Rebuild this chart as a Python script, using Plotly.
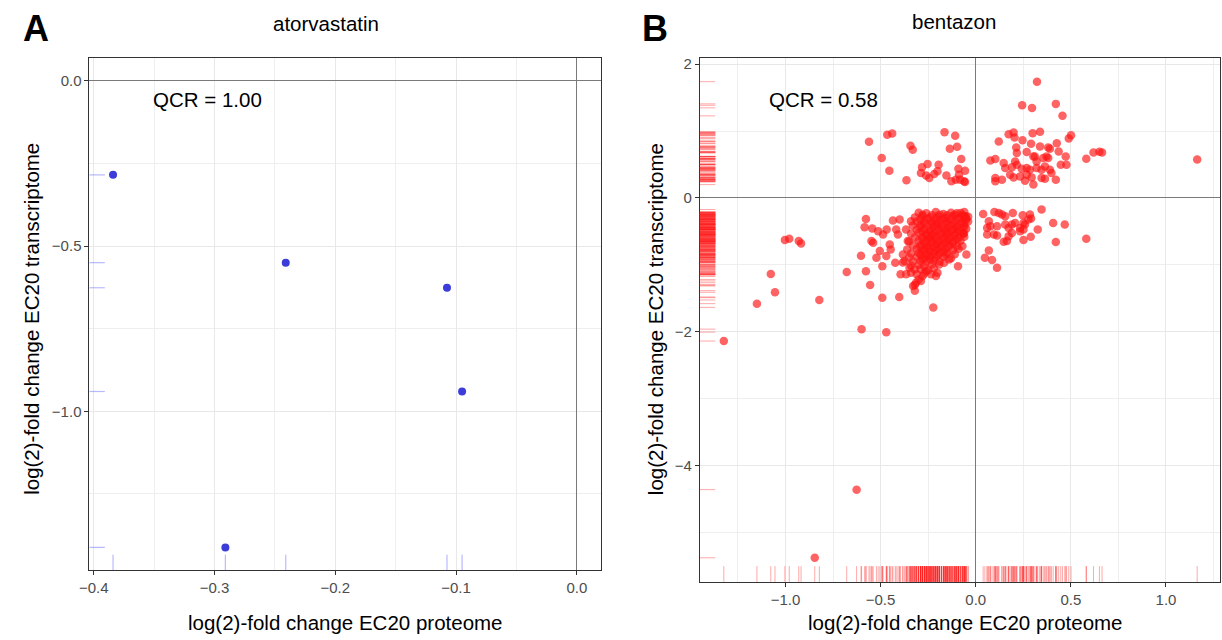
import plotly.graph_objects as go

W, H = 1222, 640
FONT = "Liberation Sans, Arial, sans-serif"

# ---------------- Panel A: atorvastatin ----------------
ator_x = [-0.384, -0.241, -0.1075, -0.095, -0.291]
ator_y = [-0.284, -0.550, -0.626, -0.940, -1.412]

# ---------------- Panel B: bentazon (x = proteome, y = transcriptome) ----------------
benta_sparse = [
    (-1.150, -1.580), (-0.822, -1.525), (-0.223, -1.636), (-1.324, -2.139),
    (-0.600, -1.961), (-0.470, -2.006), (-0.626, -4.361), (-0.846, -5.380),
    (-1.003, -0.630), (-0.980, -0.611), (-0.930, -0.645), (-0.918, -0.680),
    (-1.077, -1.137), (-1.055, -1.410), (-0.678, -1.107), (-0.577, -1.097),
    (-0.603, -0.864), (-0.555, -1.301), (-0.491, -1.490), (-0.402, -1.480),
    (-0.320, -1.386), (-0.329, -1.316), (-0.491, -1.022), (-0.522, -0.894),
    (-0.504, -0.794), (-0.423, -0.969), (-0.383, -0.963), (-0.395, -1.142),
    (-0.366, -1.142), (-0.093, -1.022), (-0.049, -0.844), (-0.065, -0.537),
    (-0.577, -0.313), (-0.584, -0.437), (-0.544, -0.456), (-0.513, -0.496),
    (-0.487, -0.545), (-0.468, -0.471), (-0.435, -0.337), (-0.400, -0.322),
    (-0.452, -0.694), (-0.447, -0.769), (-0.470, -0.869), (-0.548, -0.645),
    (-0.539, -0.671), (-0.418, -0.471), (-0.409, -0.545), (-0.357, -0.645),
    (-0.366, -0.471), (-0.340, -0.347), (-0.383, -0.844), (-0.374, -0.943),
    (-0.348, -1.043), (-0.340, -1.118), (-0.314, -1.267), (-0.288, -1.241),
    (-0.279, -1.167), (-0.261, -1.092), (-0.235, -1.142), (-0.209, -1.167),
    (-0.201, -1.118), (-0.192, -0.993), (-0.166, -0.969), (-0.140, -0.918),
    (-0.157, -0.844), (-0.079, -0.224), (-0.053, -0.273), (-0.061, -0.273),
    (-0.053, -0.298), (-0.061, -0.522), (-0.070, -0.720),
]

benta_upper_left = [
    (-0.561, 0.841), (-0.465, 0.945), (-0.439, 0.964), (-0.343, 0.781),
    (-0.331, 0.721), (-0.494, 0.596), (-0.454, 0.408), (-0.364, 0.264),
    (-0.164, 0.984), (-0.108, 0.930), (-0.136, 0.736), (-0.098, 0.766),
    (-0.076, 0.581), (-0.282, 0.458), (-0.253, 0.507), (-0.288, 0.373),
    (-0.261, 0.338), (-0.244, 0.298), (-0.218, 0.358), (-0.195, 0.498),
    (-0.201, 0.398), (-0.154, 0.338), (-0.128, 0.249), (-0.091, 0.438),
    (-0.088, 0.349), (-0.056, 0.408), (-0.105, 0.274), (-0.061, 0.249),
    (-0.082, 0.274), (-0.056, 0.238),
]

benta_upper_right = [
    (0.322, 1.739), (0.244, 1.386), (0.296, 1.347), (0.421, 1.407),
    (0.456, 1.228), (0.173, 0.954), (0.199, 0.979), (0.204, 0.905),
    (0.121, 0.845), (0.246, 0.864), (0.299, 0.969), (0.338, 0.990),
    (0.291, 0.811), (0.489, 0.890), (0.501, 0.939), (0.426, 0.820),
    (0.581, 0.587), (0.619, 0.681), (0.650, 0.692), (0.664, 0.681),
    (1.164, 0.576),
    (0.213, 0.756), (0.216, 0.671), (0.207, 0.547), (0.268, 0.686),
    (0.303, 0.621), (0.338, 0.770), (0.381, 0.756), (0.390, 0.736),
    (0.436, 0.696), (0.473, 0.621), (0.447, 0.498), (0.477, 0.498),
    (0.372, 0.621), (0.355, 0.596), (0.381, 0.596), (0.320, 0.547),
    (0.311, 0.621), (0.077, 0.562), (0.103, 0.581), (0.147, 0.522),
    (0.155, 0.447), (0.190, 0.458), (0.216, 0.498), (0.242, 0.438),
    (0.268, 0.447), (0.285, 0.423), (0.320, 0.447), (0.346, 0.423),
    (0.364, 0.472), (0.390, 0.423), (0.398, 0.373), (0.103, 0.298),
    (0.138, 0.274), (0.103, 0.249), (0.181, 0.349), (0.199, 0.308),
    (0.233, 0.323), (0.268, 0.349), (0.294, 0.308), (0.259, 0.259),
    (0.303, 0.200), (0.346, 0.298), (0.364, 0.289), (0.421, 0.274),
]

benta_lower_right = [
    (0.039, -0.238), (0.098, -0.209), (0.121, -0.224), (0.138, -0.247),
    (0.155, -0.273), (0.195, -0.224), (0.247, -0.258), (0.285, -0.247),
    (0.291, -0.307), (0.346, -0.173), (0.069, -0.347), (0.077, -0.422),
    (0.060, -0.447), (0.112, -0.422), (0.155, -0.396), (0.190, -0.396),
    (0.173, -0.447), (0.207, -0.373), (0.251, -0.373), (0.233, -0.447),
    (0.259, -0.396), (0.277, -0.322), (0.060, -0.545), (0.095, -0.545),
    (0.112, -0.560), (0.190, -0.522), (0.173, -0.571), (0.233, -0.496),
    (0.251, -0.471), (0.326, -0.471), (0.147, -0.656), (0.164, -0.645),
    (0.251, -0.630), (0.289, -0.581), (0.407, -0.373), (0.468, -0.396),
    (0.421, -0.660), (0.581, -0.611), (0.069, -0.784), (0.048, -0.894),
    (0.086, -0.928), (0.112, -1.043),
]

benta_core = [
    (-0.30, -0.22), (-0.26, -0.23), (-0.21, -0.21), (-0.17, -0.24), (-0.13, -0.22), (-0.10, -0.23), (-0.06, -0.21),
    (-0.32, -0.29), (-0.28, -0.27), (-0.24, -0.29), (-0.20, -0.28), (-0.16, -0.30), (-0.12, -0.27), (-0.08, -0.29), (-0.04, -0.28),
    (-0.31, -0.35), (-0.27, -0.34), (-0.23, -0.36), (-0.19, -0.33), (-0.15, -0.35), (-0.11, -0.34), (-0.07, -0.36), (-0.04, -0.35),
    (-0.33, -0.41), (-0.29, -0.40), (-0.25, -0.42), (-0.21, -0.39), (-0.18, -0.41), (-0.14, -0.40), (-0.10, -0.42), (-0.06, -0.40),
    (-0.31, -0.47), (-0.27, -0.46), (-0.24, -0.48), (-0.20, -0.45), (-0.16, -0.47), (-0.12, -0.46), (-0.09, -0.48), (-0.05, -0.46),
    (-0.34, -0.53), (-0.30, -0.52), (-0.26, -0.54), (-0.22, -0.51), (-0.18, -0.53), (-0.15, -0.52), (-0.11, -0.54), (-0.07, -0.52),
    (-0.32, -0.59), (-0.28, -0.58), (-0.24, -0.60), (-0.21, -0.57), (-0.17, -0.59), (-0.13, -0.58), (-0.09, -0.60), (-0.06, -0.58),
    (-0.35, -0.65), (-0.30, -0.64), (-0.26, -0.66), (-0.23, -0.63), (-0.19, -0.65), (-0.15, -0.64), (-0.12, -0.66), (-0.08, -0.64),
    (-0.33, -0.71), (-0.29, -0.70), (-0.25, -0.72), (-0.21, -0.69), (-0.18, -0.71), (-0.14, -0.70), (-0.10, -0.72),
    (-0.36, -0.77), (-0.31, -0.76), (-0.27, -0.78), (-0.24, -0.75), (-0.20, -0.77), (-0.16, -0.76), (-0.12, -0.78), (-0.09, -0.76),
    (-0.34, -0.83), (-0.30, -0.82), (-0.26, -0.84), (-0.22, -0.81), (-0.19, -0.83), (-0.15, -0.82), (-0.11, -0.84),
    (-0.35, -0.89), (-0.31, -0.88), (-0.28, -0.90), (-0.24, -0.87), (-0.21, -0.89), (-0.17, -0.88), (-0.13, -0.90),
    (-0.33, -0.95), (-0.29, -0.94), (-0.26, -0.96), (-0.22, -0.93), (-0.19, -0.95),
    (-0.34, -1.01), (-0.30, -1.00), (-0.27, -1.02), (-0.23, -0.99),
    (-0.32, -1.07), (-0.29, -1.06), (-0.25, -1.08), (-0.22, -1.05),
    (-0.31, -1.14), (-0.27, -1.13),
    (-0.30, -1.22), (-0.32, -1.30),
]

benta_core_mid = [
    (-0.28, -0.25), (-0.23, -0.26), (-0.19, -0.25), (-0.15, -0.26), (-0.11, -0.25), (-0.07, -0.26),
    (-0.29, -0.32), (-0.25, -0.31), (-0.21, -0.32), (-0.17, -0.31), (-0.13, -0.32), (-0.09, -0.31), (-0.05, -0.32),
    (-0.27, -0.38), (-0.23, -0.39), (-0.19, -0.38), (-0.15, -0.37), (-0.11, -0.38), (-0.07, -0.39),
    (-0.29, -0.44), (-0.22, -0.43), (-0.18, -0.44), (-0.14, -0.45), (-0.10, -0.44), (-0.06, -0.43),
    (-0.28, -0.50), (-0.24, -0.51), (-0.20, -0.49), (-0.16, -0.50), (-0.13, -0.49), (-0.09, -0.51),
    (-0.26, -0.56), (-0.23, -0.55), (-0.19, -0.56), (-0.15, -0.55), (-0.11, -0.56),
    (-0.28, -0.61), (-0.25, -0.62), (-0.21, -0.61), (-0.17, -0.62), (-0.14, -0.61), (-0.10, -0.62),
    (-0.27, -0.68), (-0.23, -0.67), (-0.20, -0.68), (-0.16, -0.67), (-0.12, -0.68),
    (-0.29, -0.73), (-0.26, -0.74), (-0.22, -0.73), (-0.18, -0.74), (-0.14, -0.73),
    (-0.28, -0.79), (-0.24, -0.80), (-0.21, -0.79), (-0.17, -0.80),
    (-0.29, -0.85), (-0.25, -0.86), (-0.20, -0.86),
    (-0.27, -0.91), (-0.24, -0.92),
]

benta_pts = (benta_sparse + benta_upper_left + benta_upper_right
             + benta_lower_right + benta_core + benta_core_mid)
benta_x = [p[0] for p in benta_pts]
benta_y = [p[1] for p in benta_pts]

qcr_a = "QCR = 1.00"
qcr_b = "QCR = 0.58"
title_a = "atorvastatin"
title_b = "bentazon"
x_title = "log(2)-fold change EC20 proteome"
y_title = "log(2)-fold change EC20 transcriptome"

# ---------------- layout helpers (pixel -> paper) ----------------
def fx(p):
    return p / W

def fy(p):
    return 1 - p / H

A_X = (79.2, 595.1)
A_Y = (56.0, 570.0)
B_X = (695.0, 1220.0)
B_Y = (55.7, 581.7)

fig = go.Figure()
fig.add_trace(go.Scatter(
    x=ator_x, y=ator_y, mode="markers", xaxis="x", yaxis="y",
    marker=dict(color="rgb(50,50,214)", size=8, opacity=0.95),
    hoverinfo="skip"))
fig.add_trace(go.Scatter(
    x=benta_x, y=benta_y, mode="markers", xaxis="x2", yaxis="y2",
    marker=dict(color="rgb(255,20,20)", size=8.5, opacity=0.66),
    hoverinfo="skip"))

shapes = []
for v in ator_y:
    shapes.append(dict(type="line", xref="x domain", yref="y", x0=0, x1=0.03, y0=v, y1=v,
                       line=dict(color="rgba(70,70,255,0.38)", width=1.2), layer="above"))
for v in ator_x:
    shapes.append(dict(type="line", xref="x", yref="y domain", x0=v, x1=v, y0=0, y1=0.03,
                       line=dict(color="rgba(70,70,255,0.38)", width=1.2), layer="above"))
for v in benta_y:
    shapes.append(dict(type="line", xref="x2 domain", yref="y2", x0=0, x1=0.03, y0=v, y1=v,
                       line=dict(color="rgba(255,30,30,0.38)", width=1), layer="above"))
for v in benta_x:
    shapes.append(dict(type="line", xref="x2", yref="y2 domain", x0=v, x1=v, y0=0, y1=0.03,
                       line=dict(color="rgba(255,30,30,0.38)", width=1), layer="above"))

def axis(domain, rng, dtick, minor_dtick, fmt, anchor):
    return dict(
        domain=domain, range=rng, anchor=anchor,
        tickmode="linear", tick0=0, dtick=dtick, tickformat=fmt,
        showline=True, linecolor="#333333", linewidth=1, mirror=True,
        ticks="outside", ticklen=4, tickwidth=1, tickcolor="#333333",
        tickfont=dict(family=FONT, size=15, color="#4D4D4D"),
        showgrid=True, gridcolor="#E8E8E8", gridwidth=1,
        minor=dict(dtick=minor_dtick, tick0=0, showgrid=True, gridcolor="#EEEEEE", gridwidth=0.8, ticks=""),
        zeroline=True, zerolinecolor="#7A7A7A", zerolinewidth=1,
    )

layout = dict(
    width=W, height=H, margin=dict(l=0, r=0, t=0, b=0),
    paper_bgcolor="white", plot_bgcolor="white", showlegend=False,
    font=dict(family=FONT, color="black"),
    xaxis=axis([fx(A_X[0]), fx(A_X[1])], [-0.4035, 0.0198], 0.1, 0.05, ".1f", "y"),
    yaxis=axis([fy(A_Y[1]), fy(A_Y[0])], [-1.481, 0.070], 0.5, 0.25, ".1f", "x"),
    xaxis2=axis([fx(B_X[0]), fx(B_X[1])], [-1.4505, 1.284], 0.5, 0.25, ".1f", "y2"),
    yaxis2=axis([fy(B_Y[1]), fy(B_Y[0])], [-5.74, 2.10], 2, 1, "d", "x2"),
    shapes=shapes,
)
fig.update_layout(**layout)

def ann(text, x, y, size, xanchor="center", angle=0, bold=False):
    return dict(text=("<b>%s</b>" % text) if bold else text, x=fx(x), y=fy(y),
                xref="paper", yref="paper", showarrow=False,
                xanchor=xanchor, yanchor="middle", textangle=angle,
                font=dict(family=FONT, size=size, color="black"))

annotations = [
    ann("A", 25, 27, 36, bold=True),
    ann("B", 650, 27, 36, bold=True),
    ann(title_a, 318, 22, 20.5),
    ann(title_b, 952, 20, 20.5),
    ann(qcr_a, 141.6, 98, 20.5, xanchor="left"),
    ann(qcr_b, 762.5, 98, 20.5, xanchor="left"),
    ann(x_title, 338, 622, 20.5),
    ann(x_title, 963, 622, 20.5),
    ann(y_title, 20, 318, 20.5, angle=-90),
    ann(y_title, 650, 318, 20.5, angle=-90),
]
fig.update_layout(annotations=annotations)

fig.write_html("out.html")
